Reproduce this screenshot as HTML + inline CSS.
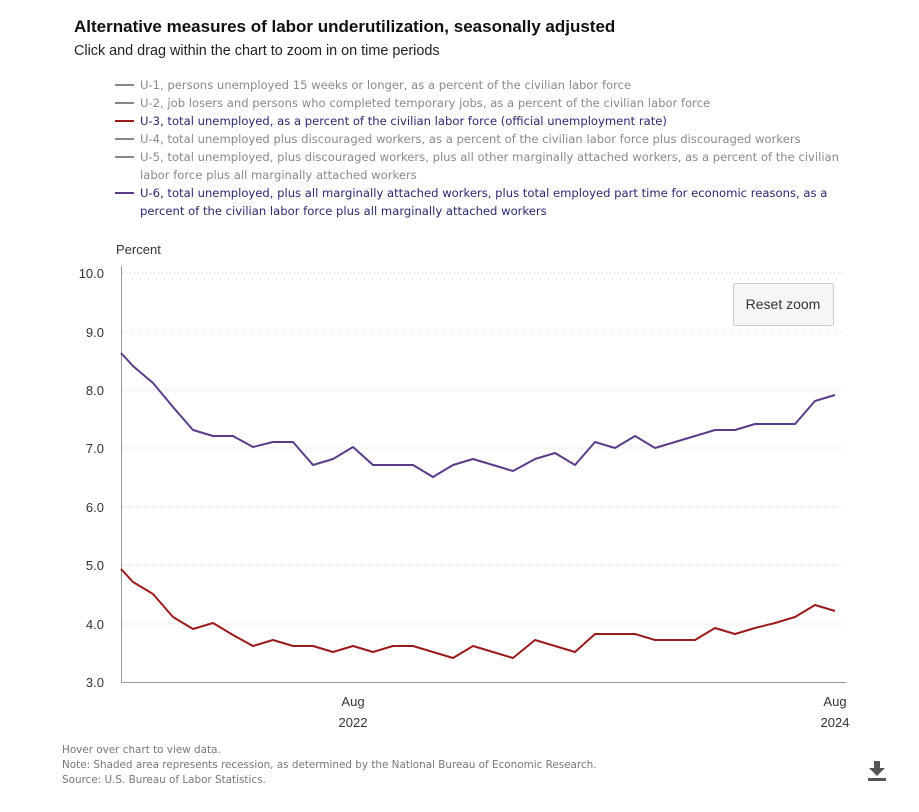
<!DOCTYPE html>
<html><head><meta charset="utf-8"><style>
body{margin:0;background:#fff;width:919px;height:807px;overflow:hidden}
svg text{font-family:"Liberation Sans",sans-serif}
.lg{font-family:"DejaVu Sans",sans-serif;font-size:11.6px;fill:#8a8a8a}
.on{fill:#2a2a72}
.ax{font-size:13px;fill:#333}
.ft{font-family:"DejaVu Sans",sans-serif;font-size:10.4px;fill:#777}
</style></head><body>
<svg width="919" height="807" xmlns="http://www.w3.org/2000/svg">
<text x="74" y="32" font-size="17" font-weight="bold" fill="#111">Alternative measures of labor underutilization, seasonally adjusted</text>
<text x="74" y="55" font-size="14.4" fill="#222">Click and drag within the chart to zoom in on time periods</text>
<g stroke-width="2">
<line x1="115" y1="85" x2="134" y2="85" stroke="#888"/>
<line x1="115" y1="103" x2="134" y2="103" stroke="#888"/>
<line x1="115" y1="121" x2="134" y2="121" stroke="#9b1b1b"/>
<line x1="115" y1="139" x2="134" y2="139" stroke="#888"/>
<line x1="115" y1="157" x2="134" y2="157" stroke="#888"/>
<line x1="115" y1="193" x2="134" y2="193" stroke="#5a3c8a"/>
</g>
<text class="lg" x="140" y="89">U-1, persons unemployed 15 weeks or longer, as a percent of the civilian labor force</text>
<text class="lg" x="140" y="107">U-2, job losers and persons who completed temporary jobs, as a percent of the civilian labor force</text>
<text class="lg on" x="140" y="125">U-3, total unemployed, as a percent of the civilian labor force (official unemployment rate)</text>
<text class="lg" x="140" y="143">U-4, total unemployed plus discouraged workers, as a percent of the civilian labor force plus discouraged workers</text>
<text class="lg" x="140" y="161">U-5, total unemployed, plus discouraged workers, plus all other marginally attached workers, as a percent of the civilian</text>
<text class="lg" x="140" y="179">labor force plus all marginally attached workers</text>
<text class="lg on" x="140" y="197">U-6, total unemployed, plus all marginally attached workers, plus total employed part time for economic reasons, as a</text>
<text class="lg on" x="140" y="215">percent of the civilian labor force plus all marginally attached workers</text>
<text class="ax" x="116" y="254">Percent</text>
<g stroke="#ccc" stroke-dasharray="1 3">
<line x1="122" y1="273" x2="845" y2="273"/><line x1="122" y1="332" x2="845" y2="332"/>
<line x1="122" y1="390" x2="845" y2="390"/><line x1="122" y1="448" x2="845" y2="448"/>
<line x1="122" y1="507" x2="845" y2="507"/><line x1="122" y1="565" x2="845" y2="565"/>
<line x1="122" y1="624" x2="845" y2="624"/>
</g>
<g class="ax" text-anchor="end">
<text x="104" y="278">10.0</text><text x="104" y="337">9.0</text><text x="104" y="395">8.0</text>
<text x="104" y="453">7.0</text><text x="104" y="512">6.0</text><text x="104" y="570">5.0</text>
<text x="104" y="629">4.0</text><text x="104" y="687">3.0</text>
</g>
<line x1="121.5" y1="266" x2="121.5" y2="683" stroke="#999"/>
<line x1="121" y1="682.5" x2="846" y2="682.5" stroke="#999"/>
<g class="ax" text-anchor="middle">
<text x="353" y="706">Aug</text><text x="353" y="727">2022</text>
<text x="835" y="706">Aug</text><text x="835" y="727">2024</text>
</g>
<polyline fill="none" stroke="#5a3c8a" stroke-width="2" stroke-linejoin="round" points="121,353 133,366 153,383 173,407 193,430 213,436 233,436 253,447 273,442 293,442 313,465 333,459 353,447 373,465 393,465 413,465 433,477 453,465 473,459 493,465 513,471 535,459 555,453 575,465 595,442 615,448 635,436 655,448 675,442 695,436 715,430 735,430 755,424 775,424 795,424 815,401 835,395"/>
<polyline fill="none" stroke="#9b1b1b" stroke-width="2" stroke-linejoin="round" points="121,569 133,582 153,594 173,617 193,629 213,623 233,635 253,646 273,640 293,646 313,646 333,652 353,646 373,652 393,646 413,646 433,652 453,658 473,646 493,652 513,658 535,640 555,646 575,652 595,634 615,634 635,634 655,640 675,640 695,640 715,628 735,634 755,628 775,623 795,617 815,605 835,611"/>
<rect x="733.5" y="283.5" width="100" height="42" rx="2" fill="#f6f6f6" stroke="#ccc"/>
<text x="783" y="309" font-size="14" fill="#333" text-anchor="middle">Reset zoom</text>
<text class="ft" x="62" y="753">Hover over chart to view data.</text>
<text class="ft" x="62" y="768">Note: Shaded area represents recession, as determined by the National Bureau of Economic Research.</text>
<text class="ft" x="62" y="783">Source: U.S. Bureau of Labor Statistics.</text>
<g fill="#555"><rect x="874" y="761" width="6" height="8"/><polygon points="869,768 885,768 877,776"/><rect x="868" y="778" width="18" height="3"/></g>
</svg>
</body></html>
